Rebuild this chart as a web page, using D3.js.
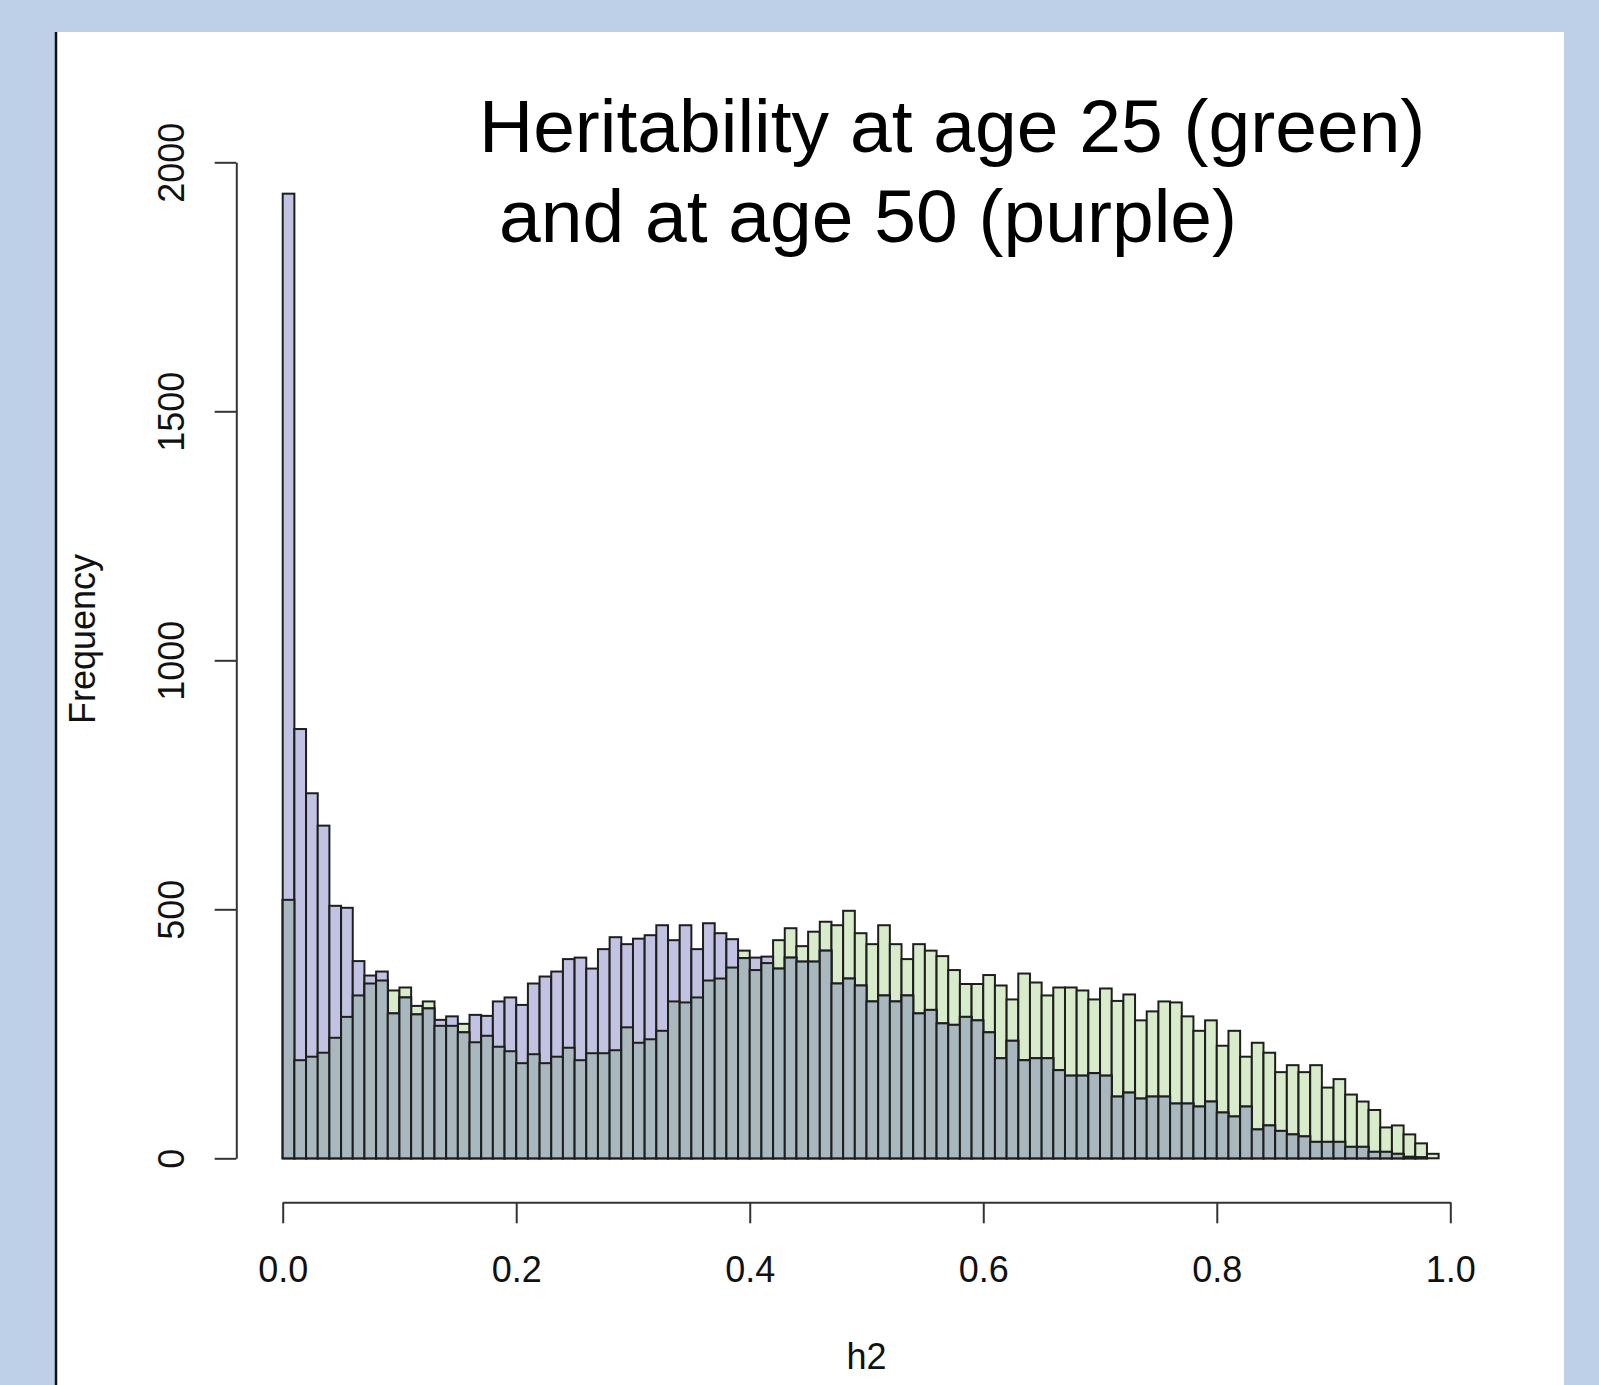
<!DOCTYPE html>
<html lang="en">
	<head>
		<meta charset="utf-8">
		<title>Heritability histogram</title>
		<script type="text/javascript" src="https://cdn.jsdelivr.net/npm/d3@7"></script>
		<style type="text/css">
			body { margin: 0; background: #bdd0e8; }
			svg { display: block; font-family: "Liberation Sans", Arial, sans-serif; }
		</style>
	</head>
	<body>
		<script type="text/javascript">

			// histogram counts, 100 bins of width 0.01 from 0 to 1
			var age25 = [519,197,204,212,242,284,327,351,357,337,
				343,306,315,266,266,270,233,246,224,215,
				191,209,191,204,222,197,211,211,217,263,
				232,239,256,315,313,323,357,361,383,417,
				378,392,438,462,426,455,475,468,497,452,
				430,468,430,400,430,417,406,378,350,350,
				368,347,319,371,353,327,343,343,337,319,
				341,316,329,277,295,315,313,285,256,277,
				226,256,204,232,212,173,187,173,187,142,
				159,128,114,97,62,66,48,30,9,0]

			var age50 = [1937,862,733,668,507,503,396,367,375,291,
				323,289,301,278,285,253,288,286,315,323,
				308,351,365,375,400,403,381,420,444,430,
				441,448,468,438,468,420,472,452,440,402,
				403,405,381,403,395,395,417,351,361,347,
				315,327,315,327,291,298,271,268,284,277,
				253,201,236,197,201,201,177,166,166,171,
				166,124,132,120,124,124,110,110,104,114,
				92,84,104,58,66,55,48,44,33,33,
				33,23,23,13,13,9,3,2,0,0]

			var binWidth = 0.01
			var xTicks = [0, 0.2, 0.4, 0.6, 0.8, 1.0]
			var yTicks = [0, 500, 1000, 1500, 2000]

			var w = 1599, h = 1385

			var svg = d3.select("body").append("svg").attr("width", w).attr("height", h)

			// white slide panel
			svg.append("rect").attr("x", 56).attr("y", 32).attr("width", 1508).attr("height", h - 32).attr("fill", "white")
			svg.append("line").attr("x1", 56).attr("x2", 56).attr("y1", 32).attr("y2", h)
				.attr("stroke", "#111").attr("stroke-width", 2.5)

			var xscale = d3.scaleLinear().domain([0, 1]).range([282.7, 1450.3])
			var yscale = d3.scaleLinear().domain([0, 2000]).range([1158.3, 162.3])

			var bins = d3.range(age25.length).map(function(i) {
				return { x0: i * binWidth, g: age25[i], p: age50[i] }
			})

			function drawBars(cls, fill, val) {
				svg.selectAll("." + cls)
				.data(bins.filter(function(d) { return val(d) > 0 }))
				.enter()
				.append("rect")
				.attr("class", cls)
				.attr("x", function(d) { return xscale(d.x0) })
				.attr("y", function(d) { return yscale(val(d)) })
				.attr("width", function(d) { return xscale(d.x0 + binWidth) - xscale(d.x0) })
				.attr("height", function(d) { return yscale(0) - yscale(val(d)) })
				.attr("fill", fill)
				.attr("stroke", "#1e1e1e")
				.attr("stroke-width", 2)
			}

			drawBars("green", "#d8ebcb", function(d) { return d.g })
			drawBars("purple", "#c2c3e3", function(d) { return d.p })
			drawBars("both", "#a8b8be", function(d) { return Math.min(d.g, d.p) })

			// y axis
			var yaxis = svg.append("g")
				.attr("transform", "translate(236.3,0)")
				.call(d3.axisLeft(yscale).tickValues(yTicks).tickSize(21.6).tickSizeOuter(0).tickFormat(d3.format("d")))
			yaxis.selectAll("path, line").attr("stroke", "#333").attr("stroke-width", 2)
			yaxis.selectAll("text")
				.attr("transform", "rotate(-90)")
				.attr("x", 0).attr("y", -52.3).attr("dy", 0)
				.attr("text-anchor", "middle")
				.attr("font-size", "36px")
				.attr("font-family", "Liberation Sans, Arial, sans-serif")
				.attr("fill", "#111")

			// x axis
			var xaxis = svg.append("g")
				.attr("transform", "translate(0,1202.3)")
				.call(d3.axisBottom(xscale).tickValues(xTicks).tickSize(21).tickSizeOuter(0).tickFormat(d3.format(".1f")))
			xaxis.selectAll("path, line").attr("stroke", "#333").attr("stroke-width", 2)
			xaxis.selectAll("text")
				.attr("y", 79.4).attr("dy", 0)
				.attr("font-size", "36px")
				.attr("font-family", "Liberation Sans, Arial, sans-serif")
				.attr("fill", "#111")

			// labels
			svg.append("text")
				.attr("x", 866.5).attr("y", 1369)
				.attr("text-anchor", "middle")
				.attr("font-size", "36px")
				.attr("fill", "#111")
				.text("h2")

			svg.append("text")
				.attr("transform", "translate(95,639) rotate(-90)")
				.attr("text-anchor", "middle")
				.attr("font-size", "36px")
				.attr("fill", "#111")
				.text("Frequency")

			svg.append("text")
				.attr("x", 479).attr("y", 152)
				.attr("font-size", "75px")
				.attr("fill", "black")
				.text("Heritability at age 25 (green)")

			svg.append("text")
				.attr("x", 499).attr("y", 242)
				.attr("font-size", "75px")
				.attr("fill", "black")
				.text("and at age 50 (purple)")

		</script>
	</body>
</html>
